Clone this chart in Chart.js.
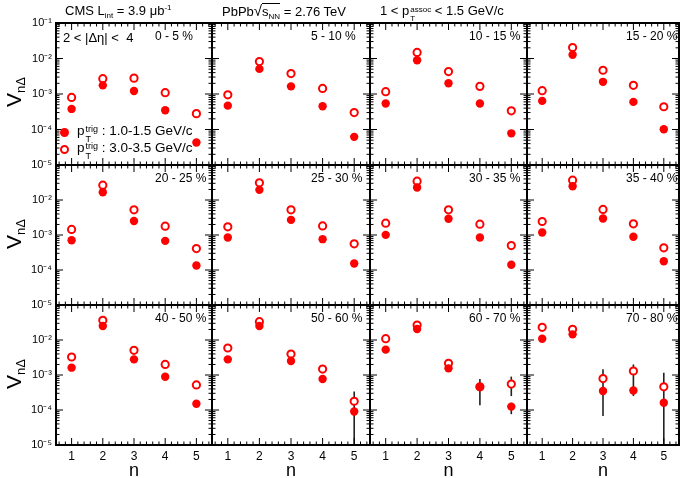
<!DOCTYPE html>
<html>
<head>
<meta charset="utf-8">
<script src="https://cdn.jsdelivr.net/npm/chart.js@4.4.1/dist/chart.umd.min.js"></script>
<style>
  body { margin: 0; background: #fff; font-family: 'Liberation Sans', Arial, sans-serif; }
  #wrap { position: relative; width: 685px; height: 478px; overflow: hidden; }
  #wrap canvas { position: absolute; left: 0; top: 0; }
  .txt { position: absolute; white-space: nowrap; color: #000; z-index: 5; }
  .hdr { font-size: 13px; line-height: 14px; }
  .hdr sub, .hdr sup { font-size: 8px; line-height: 0; }
  .hdr sub { vertical-align: -3px; }
  .hdr sup { vertical-align: 5px; }
  .ov { border-top: 1px solid #000; padding-top: 0px; }
  .rad { font-size: 15px; }
  .ss { display: inline-block; vertical-align: -7px; font-size: 9px; line-height: 10px; margin-left: 1px; }
  .ss span { display: block; }
  .hdr .ss { font-size: 8px; line-height: 9px; vertical-align: -6px; }
  .leg { font-size: 13.5px; line-height: 16px; }
  .mk { position: absolute; width: 9px; height: 9px; border-radius: 50%; box-sizing: border-box; z-index: 5; }
  .ytitle { font-size: 21px; line-height: 21px; transform: translate(-50%, -50%) rotate(-90deg); }
  .ytitle sub { font-size: 13px; line-height: 0; vertical-align: -4px; }
</style>
</head>
<body>
<div id="wrap">
  <div class="txt hdr" style="left:65px; top:4px;">CMS L<sub>int</sub> = 3.9 μb<sup>-1</sup></div>
  <div class="txt hdr" style="left:222px; top:4px;">PbPb<span class="rad">√</span><span class="ov">s<sub>NN</sub></span> = 2.76 TeV</div>
  <div class="txt hdr" style="left:380px; top:4px;">1 &lt; p<span class="ss"><span>assoc</span><span>T</span></span> &lt; 1.5 GeV/c</div>

  <div class="mk" style="left:60px; top:128px; background:#ff0000;"></div>
  <div class="txt leg" style="left:77px; top:123px;">p<span class="ss"><span>trig</span><span>T</span></span> : 1.0-1.5 GeV/c</div>
  <div class="mk" style="left:60px; top:145px; border:2px solid #ff0000;"></div>
  <div class="txt leg" style="left:77px; top:140px;">p<span class="ss"><span>trig</span><span>T</span></span> : 3.0-3.5 GeV/c</div>

  <div class="txt ytitle" style="left:13px; top:92px;">V<sub>nΔ</sub></div>
  <div class="txt ytitle" style="left:13px; top:234px;">V<sub>nΔ</sub></div>
  <div class="txt ytitle" style="left:13px; top:374px;">V<sub>nΔ</sub></div>
</div>
<script>
const nValues = [1, 2, 3, 4, 5];
const xTickLabels = ["1", "2", "3", "4", "5"];
const yTickValues = [1e-5, 1e-4, 1e-3, 1e-2, 1e-1];
const yTickLabels = ["10⁻⁵", "10⁻⁴", "10⁻³", "10⁻²", "10⁻¹"];
const centralityLabels = ["0 - 5 %", "5 - 10 %", "10 - 15 %", "15 - 20 %",
  "20 - 25 %", "25 - 30 %", "30 - 35 %", "35 - 40 %",
  "40 - 50 %", "50 - 60 %", "60 - 70 %", "70 - 80 %"];
const etaGapLabel = "2 < |Δη| <  4";

// V_nDelta for p_T^trig 1.0-1.5 GeV/c (filled), one row per centrality bin
const vLowTrig = [
  [3.8e-4, 1.75e-3, 1.21e-3, 3.5e-4, 4.3e-5],
  [4.7e-4, 5.1e-3, 1.64e-3, 4.5e-4, 6.2e-5],
  [5.4e-4, 8.9e-3, 2.0e-3, 5.4e-4, 7.8e-5],
  [6.4e-4, 1.27e-2, 2.2e-3, 6.0e-4, 1.02e-4],
  [7.1e-4, 1.67e-2, 2.5e-3, 6.8e-4, 1.35e-4],
  [8.5e-4, 1.95e-2, 2.7e-3, 7.6e-4, 1.53e-4],
  [1.01e-3, 2.28e-2, 2.9e-3, 8.5e-4, 1.41e-4],
  [1.18e-3, 2.48e-2, 2.95e-3, 8.9e-4, 1.78e-4],
  [1.62e-3, 2.5e-2, 2.8e-3, 8.9e-4, 1.51e-4],
  [2.8e-3, 2.5e-2, 2.5e-3, 7.7e-4, 9.1e-5],
  [5.3e-3, 2.06e-2, 1.55e-3, 4.5e-4, 1.25e-4],
  [1.09e-2, 1.45e-2, 3.5e-4, 3.6e-4, 1.62e-4]
];

// V_nDelta for p_T^trig 3.0-3.5 GeV/c (open)
const vHighTrig = [
  [8.0e-4, 2.7e-3, 2.8e-3, 1.09e-3, 2.8e-4],
  [9.5e-4, 8.2e-3, 3.76e-3, 1.44e-3, 3.0e-4],
  [1.16e-3, 1.48e-2, 4.27e-3, 1.64e-3, 3.36e-4],
  [1.24e-3, 2.04e-2, 4.67e-3, 1.75e-3, 4.37e-4],
  [1.44e-3, 2.65e-2, 5.25e-3, 1.79e-3, 4.1e-4],
  [1.71e-3, 3.1e-2, 5.25e-3, 1.82e-3, 5.6e-4],
  [2.17e-3, 3.46e-2, 5.25e-3, 2.04e-3, 5.0e-4],
  [2.43e-3, 3.68e-2, 5.37e-3, 2.09e-3, 4.3e-4],
  [3.27e-3, 3.65e-2, 5.07e-3, 2.0e-3, 5.2e-4],
  [5.9e-3, 3.34e-2, 3.98e-3, 1.48e-3, 1.78e-4],
  [1.09e-2, 2.68e-2, 2.15e-3, 4.6e-4, 5.5e-4],
  [2.3e-2, 2.02e-2, 7.9e-4, 1.3e-3, 4.6e-4]
];

// [panel, n, low, high]
const errorBars = [
  [9, 5, 5e-6, 3.4e-4],
  [10, 4, 1.36e-4, 7.7e-4],
  [10, 5, 2.5e-4, 9.0e-4],
  [10, 5, 7.6e-5, 1.6e-4],
  [11, 3, 6.7e-5, 1.45e-3],
  [11, 4, 2.5e-4, 2.0e-3],
  [11, 5, 5e-6, 1.16e-3]
];

const colLeft = [56, 212, 370, 527];
const colRight = [212, 370, 527, 684];
const rowTop = [23, 165, 305];
const rowBottom = [165, 305, 445];
const W = 685, H = 478;

Chart.defaults.font.family = "'Liberation Sans', Arial, sans-serif";
Chart.defaults.color = "#000";

const rootFrame = {
  id: "rootFrame",
  beforeDatasetsDraw(chart, args, opts) {
    const { ctx, chartArea: a, scales: { x, y } } = chart;
    ctx.save();
    ctx.beginPath();
    ctx.rect(a.left, a.top, a.right - a.left, a.bottom - a.top);
    ctx.clip();
    ctx.strokeStyle = "#222";
    ctx.lineWidth = 1.6;
    errorBars.filter(e => e[0] === opts.panel).forEach(e => {
      const px = x.getPixelForValue(e[1]);
      ctx.beginPath();
      ctx.moveTo(px, y.getPixelForValue(e[2]));
      ctx.lineTo(px, y.getPixelForValue(e[3]));
      ctx.stroke();
    });
    ctx.restore();
  },
  afterDraw(chart, args, opts) {
    const { ctx, chartArea: a, scales: { x, y } } = chart;
    ctx.save();
    ctx.strokeStyle = "#000";
    ctx.lineWidth = 1;
    const tick = (x0, y0, x1, y1) => {
      ctx.beginPath(); ctx.moveTo(x0, y0); ctx.lineTo(x1, y1); ctx.stroke();
    };
    // log ticks on left and right
    for (let k = -5; k <= -1; k++) {
      for (let m = 1; m <= 9; m++) {
        const v = m * Math.pow(10, k);
        if (v > 0.1000001) break;
        const py = y.getPixelForValue(v);
        const len = m === 1 ? 7 : 3.5;
        tick(a.left, py, a.left + len, py);
        tick(a.right, py, a.right - len, py);
      }
    }
    // n ticks on top and bottom
    for (let i = 3; i <= 27; i++) {
      const px = x.getPixelForValue(i / 5);
      const len = i % 5 === 0 ? 7 : 3.5;
      tick(px, a.bottom, px, a.bottom - len);
      tick(px, a.top, px, a.top + len);
    }
    ctx.lineWidth = 2;
    ctx.strokeRect(a.left, a.top, a.right - a.left, a.bottom - a.top);

    ctx.fillStyle = "#000";
    ctx.textBaseline = "middle";
    ctx.font = "12px 'Liberation Sans', Arial, sans-serif";
    ctx.fillText(centralityLabels[opts.panel], a.left + 99, a.top + 14);
    if (opts.panel === 0) {
      ctx.font = "13px 'Liberation Sans', Arial, sans-serif";
      ctx.fillText(etaGapLabel, a.left + 7, a.top + 15);
    }
    ctx.restore();
  }
};

const wrap = document.getElementById("wrap");

for (let p = 0; p < 12; p++) {
  const row = Math.floor(p / 4), col = p % 4;
  const canvas = document.createElement("canvas");
  canvas.width = W;
  canvas.height = H;
  wrap.appendChild(canvas);

  new Chart(canvas.getContext("2d"), {
    type: "scatter",
    data: {
      datasets: [
        {
          label: "pT trig 1.0-1.5 GeV/c",
          data: nValues.map((n, j) => ({ x: n, y: vLowTrig[p][j] })),
          pointStyle: "circle",
          pointRadius: 4.2,
          borderWidth: 0,
          backgroundColor: "#ff0000",
          order: 0
        },
        {
          label: "pT trig 3.0-3.5 GeV/c",
          data: nValues.map((n, j) => ({ x: n, y: vHighTrig[p][j] })),
          pointStyle: "circle",
          pointRadius: 3.6,
          borderWidth: 2,
          borderColor: "#ff0000",
          backgroundColor: "#ffffff",
          order: 1
        }
      ]
    },
    options: {
      responsive: false,
      animation: false,
      events: [],
      layout: {
        padding: {
          left: col === 0 ? 0 : colLeft[col],
          top: rowTop[row],
          right: W - colRight[col],
          bottom: row === 2 ? 0 : H - rowBottom[row]
        }
      },
      plugins: {
        legend: { display: false },
        tooltip: { enabled: false },
        rootFrame: { panel: p }
      },
      scales: {
        x: {
          type: "linear",
          min: 0.5,
          max: 5.5,
          display: row === 2,
          grid: { display: false, drawTicks: false },
          border: { display: false },
          afterBuildTicks: s => { s.ticks = nValues.map(v => ({ value: v })); },
          ticks: {
            padding: 4,
            autoSkip: false,
            maxRotation: 0,
            font: { size: 12 },
            callback: (v, i) => xTickLabels[i]
          },
          title: { display: true, text: "n", font: { size: 18 }, padding: { top: 0, bottom: -4 } },
          afterFit: s => { s.height = row === 2 ? H - rowBottom[2] : 0; }
        },
        y: {
          type: "logarithmic",
          min: 1e-5,
          max: 1e-1,
          display: col === 0,
          grid: { display: false, drawTicks: false },
          border: { display: false },
          afterBuildTicks: s => { s.ticks = yTickValues.map(v => ({ value: v })); },
          ticks: {
            padding: 4,
            autoSkip: false,
            font: { size: 11 },
            callback: (v, i) => (row > 0 && i === 4) ? "" : yTickLabels[i]
          },
          afterFit: s => { s.width = col === 0 ? colLeft[0] : 0; }
        }
      }
    },
    plugins: [rootFrame]
  });
}
</script>
</body>
</html>
